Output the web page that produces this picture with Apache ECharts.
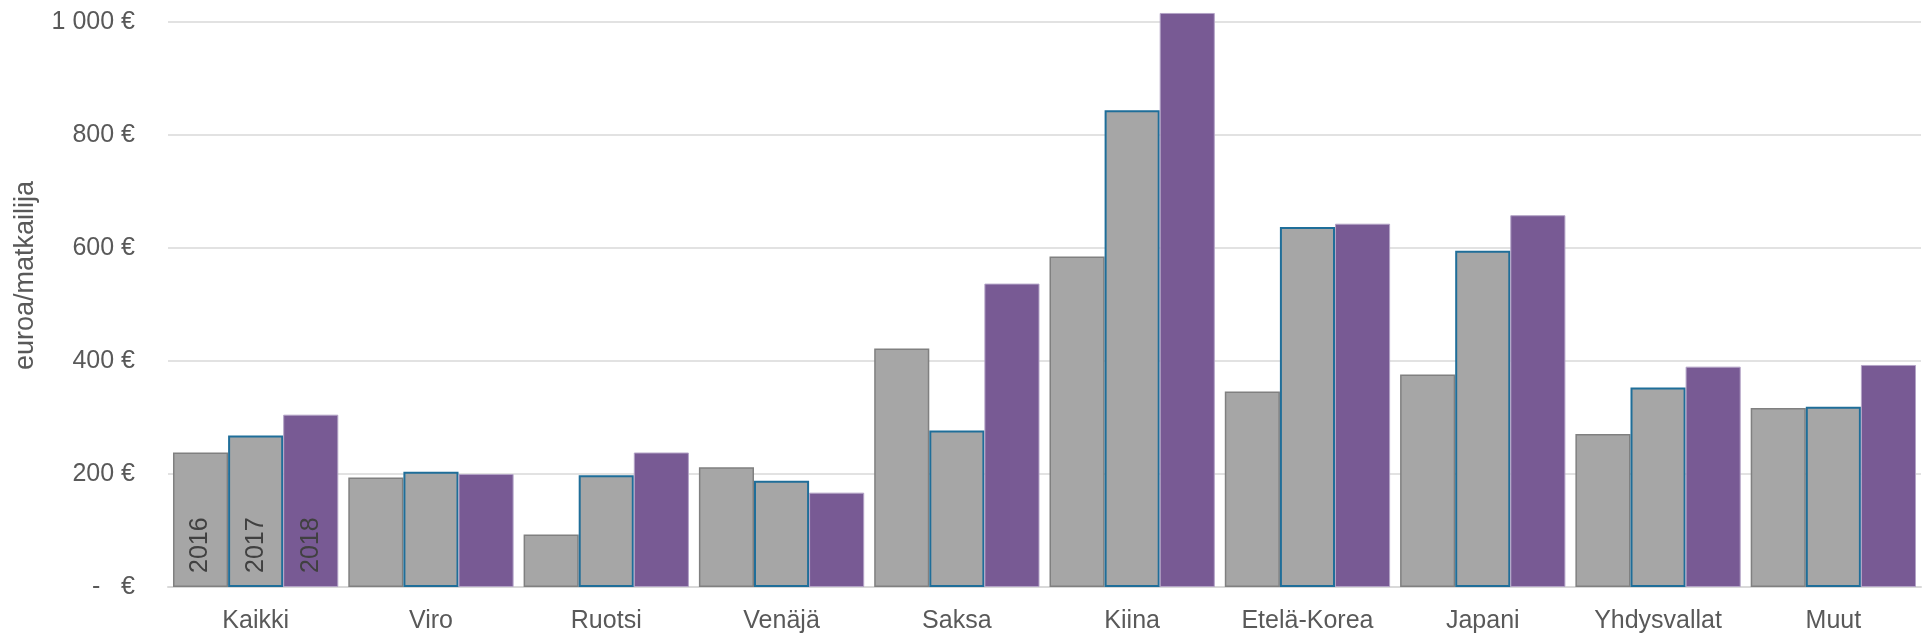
<!DOCTYPE html>
<html>
<head>
<meta charset="utf-8">
<script src="https://cdn.jsdelivr.net/npm/echarts@6/dist/echarts.min.js"></script>
<style>
html,body{margin:0;padding:0;background:#fff;}
#chart{width:1922px;height:641px;}
</style>
</head>
<body>
<div id="chart"></div>
<script>
const categories = ['Kaikki','Viro','Ruotsi','Venäjä','Saksa','Kiina','Etelä-Korea','Japani','Yhdysvallat','Muut'];
const seriesNames = ['2016','2017','2018'];
const values2016 = [238, 194, 93, 212, 422, 585, 346, 376, 271, 317];
const values2017 = [268, 204, 198, 188, 277, 844, 637, 595, 353, 319];
const values2018 = [305, 200, 238, 167, 537, 1016, 643, 658, 390, 393];
const yTicks = {min: 0, max: 1000, interval: 200};
const yAxisName = 'euroa/matkailija';

const FONT = "'Liberation Sans', Arial, sans-serif";
const styles = [
  {color: '#A6A6A6', borderColor: '#808080', borderWidth: 1.5},
  {color: '#A6A6A6', borderColor: '#1F6E99', borderWidth: 2},
  {color: '#785A94', borderColor: '#B3A3C6', borderWidth: 1}
];
const allValues = [values2016, values2017, values2018];

function fmtY(v){
  if (v === 0) return '-   €';
  return String(v).replace(/\B(?=(\d{3})+(?!\d))/g, ' ') + ' €';
}

const series = seriesNames.map((name, si) => ({
  name: name,
  type: 'bar',
  clip: false,
  barGap: '0%',
  barCategoryGap: '5.7%',
  itemStyle: styles[si],
  data: allValues[si].map((v, i) => i === 0 ? {
    value: v,
    label: {
      show: true,
      formatter: name,
      position: 'insideBottom',
      distance: 14,
      rotate: 90,
      align: 'left',
      verticalAlign: 'middle',
      color: '#404040',
      fontSize: 25,
      fontFamily: FONT
    }
  } : v)
}));

const chart = echarts.init(document.getElementById('chart'));
chart.setOption({
  animation: false,
  backgroundColor: '#fff',
  grid: {left: 168, right: 1, top: 22, bottom: 54, containLabel: false},
  xAxis: {
    type: 'category',
    data: categories,
    axisLine: {lineStyle: {color: '#D9D9D9', width: 2}},
    axisTick: {show: false},
    axisLabel: {color: '#595959', fontSize: 25, fontFamily: FONT, margin: 22, interval: 0}
  },
  yAxis: {
    type: 'value',
    min: yTicks.min, max: yTicks.max, interval: yTicks.interval,
    name: yAxisName,
    nameLocation: 'middle',
    nameRotate: 90,
    nameGap: 129,
    nameTextStyle: {color: '#595959', fontSize: 27, fontFamily: FONT, padding: [0, 0, 0, 58]},
    axisLine: {show: false},
    axisTick: {show: false},
    splitLine: {lineStyle: {color: '#D9D9D9', width: 1.5}},
    axisLabel: {color: '#595959', fontSize: 25, fontFamily: FONT, margin: 33, formatter: fmtY}
  },
  series: series
});
</script>
</body>
</html>
